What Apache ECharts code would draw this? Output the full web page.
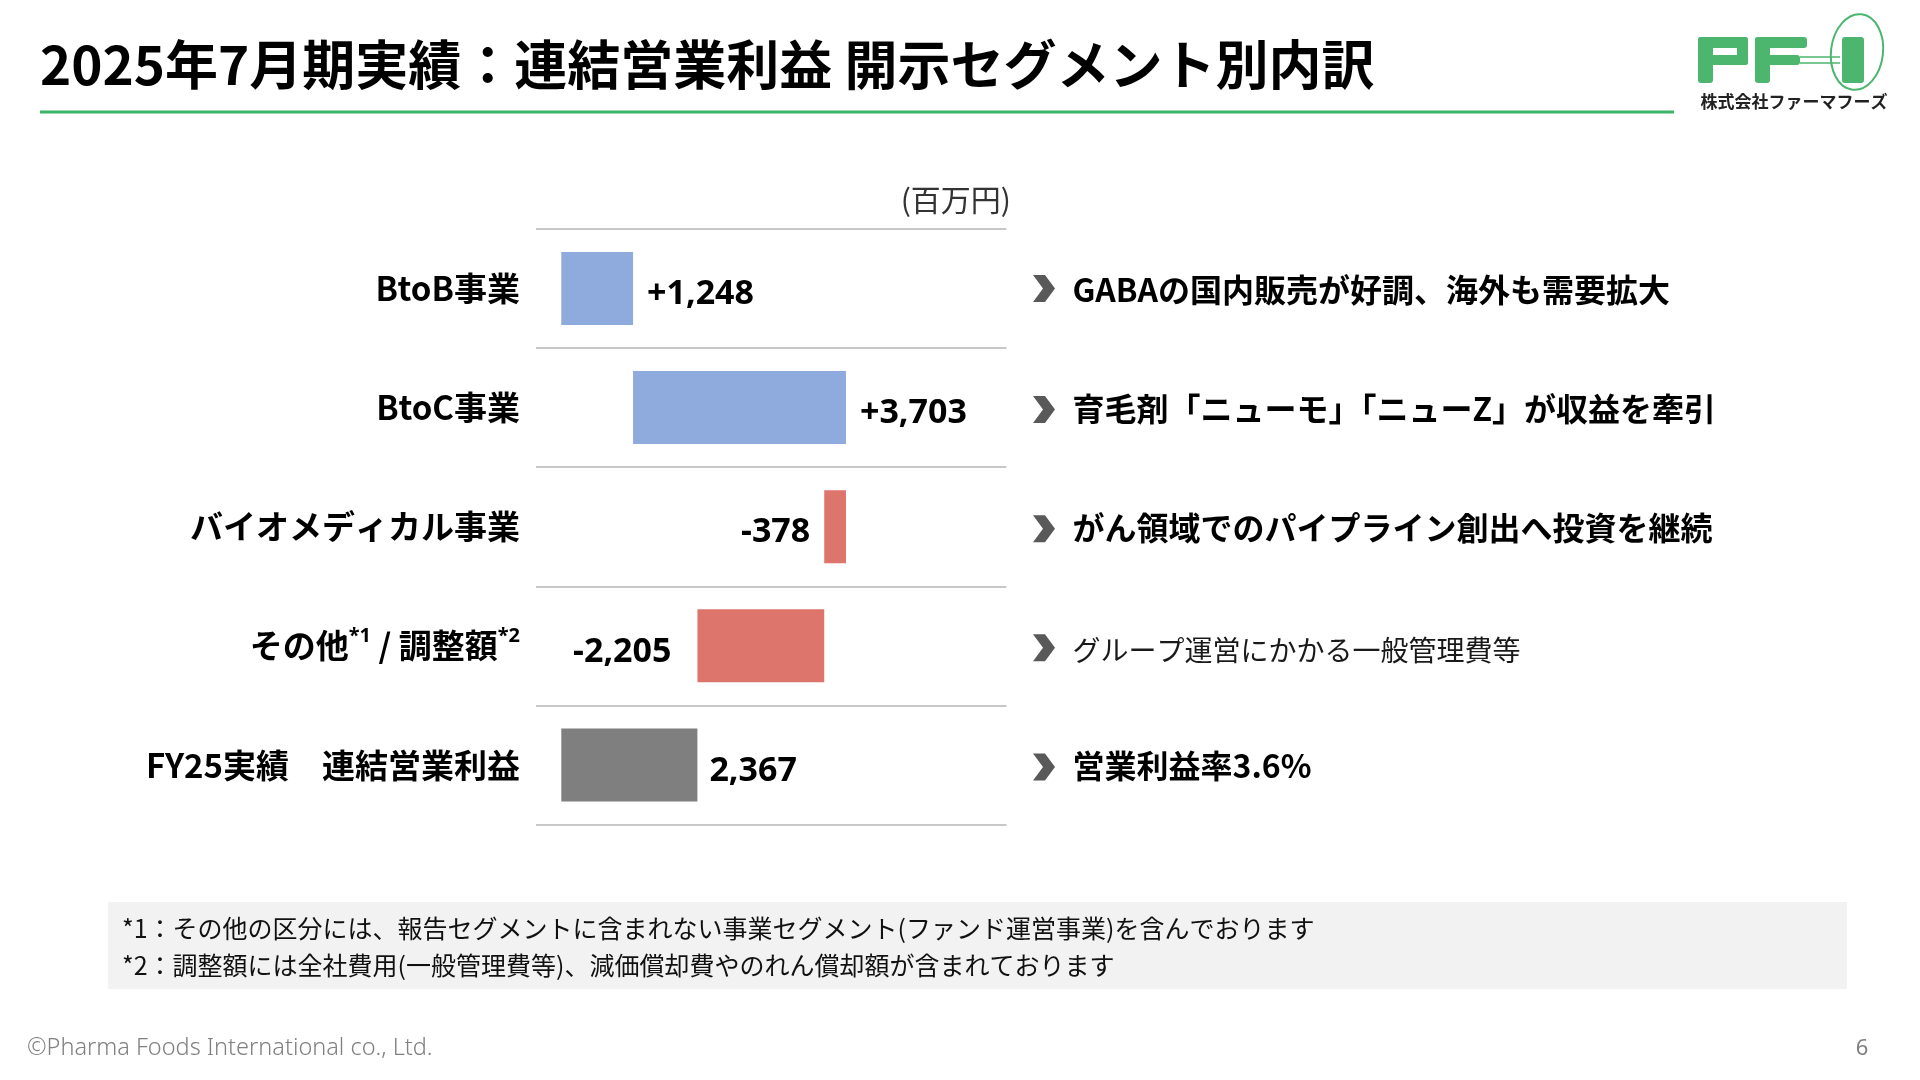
<!DOCTYPE html>
<html>
<head>
<meta charset="utf-8">
<script src="https://cdn.jsdelivr.net/npm/echarts@6/dist/echarts.min.js"></script>
<style>
  html, body { margin: 0; padding: 0; background: #ffffff; }
  #chart { width: 1920px; height: 1080px; }
</style>
</head>
<body>
<div id="chart"></div>
<script>
// ---- data ----
const categories = ['BtoB事業', 'BtoC事業', 'バイオメディカル事業', 'その他*1 / 調整額*2', 'FY25実績　連結営業利益'];
const values = [1248, 3703, -378, -2205, 2367];
const valueLabels = ['+1,248', '+3,703', '-378', '-2,205', '2,367'];
const isTotal = [false, false, false, false, true];
const comments = [
  'GABAの国内販売が好調、海外も需要拡大',
  '育毛剤「ニューモ」「ニューZ」が収益を牽引',
  'がん領域でのパイプライン創出へ投資を継続',
  'グループ運営にかかる一般管理費等',
  '営業利益率3.6%'
];
const commentBold = [true, true, true, false, true];
const titleText = '2025年7月期実績：連結営業利益 開示セグメント別内訳';
const unitText = '(百万円)';
const footnotes = [
  '*1：その他の区分には、報告セグメントに含まれない事業セグメント(ファンド運営事業)を含んでおります',
  '*2：調整額には全社費用(一般管理費等)、減価償却費やのれん償却額が含まれております'
];
const copyrightText = '©Pharma Foods International co., Ltd.';
const pageNo = '6';

// ---- style ----
const CJK = "'Noto Sans CJK JP', 'Noto Sans', sans-serif";
const LAT = "'Noto Sans', 'Noto Sans CJK JP', sans-serif";
const colPos = '#8FAADC', colNeg = '#DD756C', colTot = '#7F7F7F';
const green = '#4CB66E';
const labelGap = [14, 14, 14, 26, 12];

// waterfall helper (base + visible size)
const base = [], size = [];
let cum = 0;
values.forEach((v, i) => {
  if (isTotal[i]) { base.push(0); size.push(v); }
  else if (v >= 0) { base.push(cum); size.push(v); cum += v; }
  else { cum += v; base.push(cum); size.push(-v); }
});

const chart = echarts.init(document.getElementById('chart'), null, { renderer: 'canvas' });

const option = {
  backgroundColor: '#ffffff',
  animation: false,
  grid: { left: 536, right: 913.5, top: 228.8, bottom: 255.4, containLabel: false },
  xAxis: { type: 'value', min: -440, max: 7743, show: false },
  yAxis: [
    {
      type: 'category', inverse: true, data: categories,
      axisLine: { show: false }, axisTick: { show: false },
      splitLine: { show: true, lineStyle: { color: '#C8C8C8', width: 2 } },
      axisLabel: {
        margin: 16, color: '#000',
        formatter: function (v) {
          if (v.indexOf('*1') >= 0) {
            return '{n|その他}{s|*1}{n| / 調整額}{s|*2}';
          }
          return '{n|' + v + '}';
        },
        rich: {
          n: { fontSize: 33, fontWeight: 'bold', fontFamily: CJK, color: '#000', lineHeight: 40 },
          s: { fontSize: 20, fontWeight: 'bold', fontFamily: LAT, color: '#000', lineHeight: 20, verticalAlign: 'top' }
        }
      }
    },
    {
      type: 'category', inverse: true, position: 'right', data: comments,
      axisLine: { show: false }, axisTick: { show: false }, splitLine: { show: false },
      axisLabel: {
        margin: 66, align: 'left',
        formatter: function (v, i) {
          return commentBold[i] ? '{b|' + v + '}' : '{r|' + v + '}';
        },
        rich: {
          b: { fontSize: 32, fontWeight: 'bold', fontFamily: CJK, color: '#000', lineHeight: 40, padding: [2, 0, 0, 0] },
          r: { fontSize: 28, fontWeight: 'normal', fontFamily: CJK, color: '#1a1a1a', lineHeight: 40, padding: [8, 0, 0, 0] }
        }
      }
    }
  ],
  series: [
    {
      type: 'bar', stack: 'wf', barWidth: 73, silent: true,
      itemStyle: { color: 'rgba(0,0,0,0)' },
      data: base
    },
    {
      type: 'bar', stack: 'wf', barWidth: 73,
      data: size.map((s, i) => ({
        value: s,
        itemStyle: { color: isTotal[i] ? colTot : (values[i] >= 0 ? colPos : colNeg) },
        label: {
          show: true,
          position: (!isTotal[i] && values[i] < 0) ? 'left' : 'right',
          distance: labelGap[i],
          offset: [0, 6],
          formatter: valueLabels[i],
          fontSize: 34, fontWeight: 'bold', fontFamily: LAT, color: '#000'
        }
      }))
    }
  ],
  graphic: [
    { type: 'text', left: 40, top: 38, style: { text: titleText, font: "bold 53px 'Noto Sans CJK JP', sans-serif", fill: '#000' } },
    { type: 'line', shape: { x1: 40, y1: 112, x2: 1674, y2: 112 }, style: { stroke: '#3CB46A', lineWidth: 3 } },
    { type: 'text', x: 1011, y: 200, style: { text: unitText, font: "30px 'Noto Sans CJK JP', sans-serif", fill: '#333', textAlign: 'right', textVerticalAlign: 'middle' } },
    { type: 'rect', shape: { x: 108, y: 902, width: 1739, height: 87 }, style: { fill: '#F2F2F2' } },
    { type: 'text', x: 122, y: 928, style: { text: footnotes[0], font: "25px 'Noto Sans CJK JP', sans-serif", fill: '#111', textVerticalAlign: 'middle' } },
    { type: 'text', x: 122, y: 965, style: { text: footnotes[1], font: "25px 'Noto Sans CJK JP', sans-serif", fill: '#111', textVerticalAlign: 'middle' } },
    { type: 'text', x: 27, y: 1048, style: { text: copyrightText, font: "300 23.5px 'Noto Sans', sans-serif", fill: '#808080', textVerticalAlign: 'middle' } },
    { type: 'text', x: 1862, y: 1049, style: { text: pageNo, font: "22px 'Noto Sans', sans-serif", fill: '#808080', textAlign: 'center', textVerticalAlign: 'middle' } },
    // logo
    { type: 'group', children: [
      { type: 'rect', shape: { x: 1698, y: 37, width: 50, height: 11, r: 3 }, style: { fill: green } },
      { type: 'rect', shape: { x: 1737, y: 37, width: 11, height: 28, r: 3 }, style: { fill: green } },
      { type: 'rect', shape: { x: 1698, y: 55, width: 50, height: 10, r: 3 }, style: { fill: green } },
      { type: 'rect', shape: { x: 1698, y: 37, width: 15, height: 46, r: 3 }, style: { fill: green } },
      { type: 'rect', shape: { x: 1755, y: 37, width: 52, height: 11, r: 3 }, style: { fill: green } },
      { type: 'rect', shape: { x: 1755, y: 55, width: 45, height: 10, r: 3 }, style: { fill: green } },
      { type: 'rect', shape: { x: 1755, y: 37, width: 15, height: 46, r: 3 }, style: { fill: green } },
      { type: 'line', shape: { x1: 1800, y1: 57, x2: 1840, y2: 57 }, style: { stroke: green, lineWidth: 1.5 } },
      { type: 'line', shape: { x1: 1800, y1: 63, x2: 1840, y2: 63 }, style: { stroke: green, lineWidth: 1.5 } },
      { type: 'rect', shape: { x: 1842, y: 37, width: 22, height: 46, r: 3 }, style: { fill: green } },
      { type: 'ellipse', shape: { cx: 1857, cy: 52, rx: 26, ry: 38 }, rotation: -0.12, originX: 1857, originY: 52, style: { fill: 'none', stroke: green, lineWidth: 2 } },
      { type: 'text', x: 1794, y: 102, style: { text: '株式会社ファーマフーズ', font: "bold 17px 'Noto Sans CJK JP', sans-serif", fill: '#222', textAlign: 'center', textVerticalAlign: 'middle' } }
    ]}
  ]
};

chart.setOption(option);

// chevrons placed on the category positions
const chevrons = categories.map((c, i) => {
  const cy = chart.convertToPixel({ yAxisIndex: 0 }, i) + (i === 0 ? 0 : 2);
  const cx = 1044;
  return {
    type: 'polygon',
    shape: { points: [[cx - 11, cy - 13.5], [cx + 1, cy - 13.5], [cx + 11, cy], [cx + 1, cy + 13.5], [cx - 11, cy + 13.5], [cx - 1, cy]] },
    style: { fill: '#595959' }
  };
});
chart.setOption({ graphic: option.graphic.concat(chevrons) });
</script>
</body>
</html>
